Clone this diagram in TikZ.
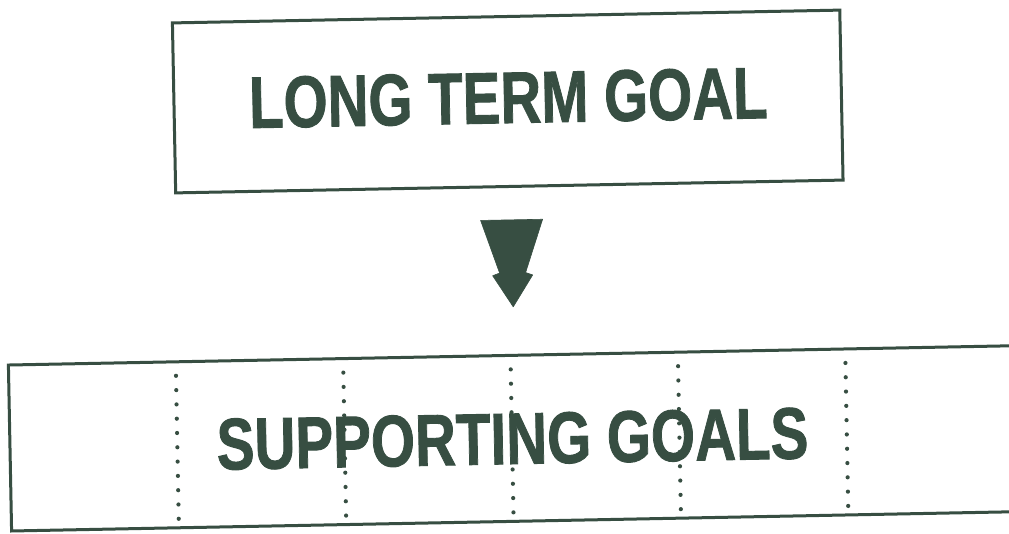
\documentclass[tikz,border=0pt]{standalone}
\usepackage{fontspec}
\setmainfont{Liberation Sans}
\newfontfamily\goalfont[FakeBold=1.3]{Liberation Sans Bold}
\definecolor{ink}{RGB}{55,78,66}
\begin{document}
\begin{tikzpicture}[x=1pt,y=1pt,
  boxline/.style={draw=ink, line width=3pt, rectangle, inner sep=0pt, transform shape},
  goaltext/.style={text=ink, inner sep=0pt, transform shape,
    font=\goalfont\fontsize{73}{73}\selectfont},
  dotmark/.style={fill=ink, draw=none},
  arrowfill/.style={fill=ink, draw=ink, line width=0.6pt, line join=round}]
\useasboundingbox (0,0) rectangle (1009,534);
\fill[white] (0,0) rectangle (1009,534);
\begin{scope}
\clip (0,0) rectangle (1009,534);
\begin{scope}[rotate around={1.1:(504.5,267)}]
  % upper box: the long term goal
  \node[boxline, minimum width=667.5pt, minimum height=170pt] (long) at (510.9,432.4) {};
  \node[goaltext] (longtext) at (511.5,436) {\scalebox{0.775}[1]{LONG TERM GOAL}};

  % lower box: the supporting goals
  \node[boxline, minimum width=1004.3pt, minimum height=166pt] (support) at (508.75,95.5) {};
  \node[goaltext] (supporttext) at (509.2,95) {\scalebox{0.776}[1]{SUPPORTING GOALS}};

  % dotted column dividers
  \foreach \x in {173.95,341.35,508.75,676.15,843.55}
    \foreach \j in {0,...,10}
      \fill[dotmark] (\x,164.5-\j*14.3) circle (2.1pt);

  % heavy arrow pointing down from the long term goal
  \coordinate (arrowtop) at (512.5,314);
  \coordinate (arrowtip) at (512.5,227);
  \fill[arrowfill] (481.5,314) -- (543.5,314) -- (525.5,261) -- (532.5,258.5)
    -- (arrowtip) -- (492.5,258.5) -- (499.5,261) -- cycle;
\end{scope}
\end{scope}
\end{tikzpicture}
\end{document}
